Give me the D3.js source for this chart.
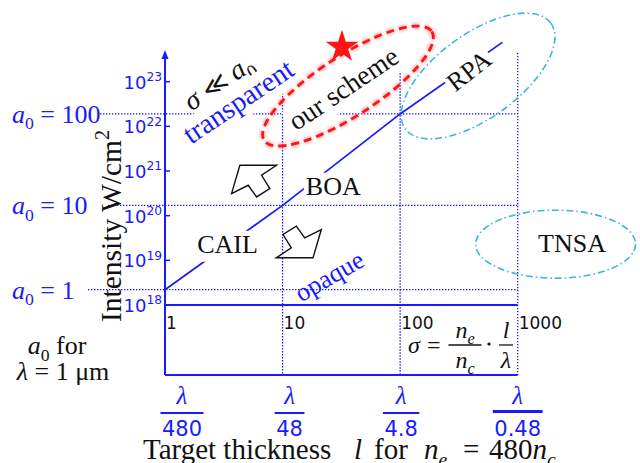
<!DOCTYPE html>
<html>
<head>
<meta charset="utf-8">
<script src="https://cdn.jsdelivr.net/npm/d3@7"></script>
<style>
  html, body { margin: 0; background: #fff; }
  svg { display: block; }
</style>
</head>
<body>
<svg id="chart" width="640" height="463"></svg>
<script>
// Regimes of laser-foil interaction: intensity vs target thickness (sigma = ne/nc * l/lambda)
var xTicks = [1, 10, 100, 1000];
var xTickLabels = ["1", "10", "100", "1000"];
var lambdaDenoms = ["480", "48", "4.8", "0.48"];
var yTicks = [1e18, 1e19, 1e20, 1e21, 1e22, 1e23];
var yTickExps = ["18", "19", "20", "21", "22", "23"];

var a0Levels = ["1", "10", "100"];
var a0Intensity = [2.2e18, 1.7e20, 1.9e22];

var gridL = [10, 100, 1000];
var gridTopI = [6.5e22, 2.1e23, 4.4e23];

// sigma = a0 threshold line
var thresholdL = [1, 10, 100, 740];
var thresholdI = [2.2e18, 1.7e20, 1.9e22, 7.6e23];

var regimeNames = ["CAIL", "BOA", "RPA", "TNSA"];
var regimeL = [3.4, 27, 385, 2900];
var regimeI = [2.3e19, 4.6e20, 1.75e23, 2.4e19];

(function () {
  "use strict";

  var BLUE = "#1a1aff", CYAN = "#38b4ea", RED = "#ff1414";
  var SERIF = "'Liberation Serif', 'DejaVu Serif', serif";
  var SANS = "'DejaVu Sans', sans-serif";

  var svg = d3.select("#chart");
  var x = d3.scaleLog().domain([1, 1000]).range([165, 517.7]);
  var y = d3.scaleLog().domain([1e18, 1e23]).range([305, 81.7]);
  var boxBottom = 375, axisTop = 50;

  var defs = svg.append("defs");
  defs.append("filter").attr("id", "glow")
    .attr("x", "-20%").attr("y", "-20%").attr("width", "140%").attr("height", "140%")
    .append("feGaussianBlur").attr("stdDeviation", 1.6);

  // rich text helper: parts = [[text, "it sub", xpos], ...]
  function rich(t, parts, fs) {
    var cur = 0;
    parts.forEach(function (p) {
      var f = (p[1] || "").split(" ");
      var off = f.indexOf("sub") >= 0 ? 0.25 * fs : (f.indexOf("sup") >= 0 ? -0.42 * fs : 0);
      var ts = t.append("tspan").text(p[0]);
      if (off - cur !== 0) ts.attr("dy", off - cur);
      cur = off;
      if (f.indexOf("it") >= 0) ts.attr("font-style", "italic");
      if (f.indexOf("sans") >= 0) ts.attr("font-family", SANS).attr("font-size", fs * 0.9);
      if (f.indexOf("sub") >= 0 || f.indexOf("sup") >= 0) ts.attr("font-size", fs * 0.68);
      if (p[2] != null) ts.attr("x", p[2]);
    });
    return t;
  }

  var gLines = svg.append("g");

  // a0 levels (horizontal dotted)
  var a0LineStart = [88, 108, 100];
  a0Intensity.forEach(function (I, i) {
    gLines.append("line")
      .attr("x1", a0LineStart[i]).attr("x2", x(1000))
      .attr("y1", y(I)).attr("y2", y(I))
      .attr("stroke", BLUE).attr("stroke-width", 1.3).attr("stroke-dasharray", "1.4,1.6");
  });

  // vertical dotted grid
  gridL.forEach(function (l, i) {
    gLines.append("line")
      .attr("x1", x(l)).attr("x2", x(l))
      .attr("y1", y(gridTopI[i])).attr("y2", boxBottom)
      .attr("stroke", BLUE).attr("stroke-width", 1.3).attr("stroke-dasharray", "1.4,1.6");
  });

  // threshold sigma = a0
  var pts = thresholdL.map(function (l, i) { return [l, thresholdI[i]]; });
  gLines.append("path")
    .attr("d", d3.line().x(function (d) { return x(d[0]); }).y(function (d) { return y(d[1]); })(pts))
    .attr("fill", "none").attr("stroke", BLUE).attr("stroke-width", 1.8);

  // axes / box
  var gAx = svg.append("g").attr("stroke", BLUE).attr("stroke-width", 2);
  gAx.append("line").attr("x1", x(1)).attr("x2", x(1000)).attr("y1", y(1e18)).attr("y2", y(1e18));
  gAx.append("line").attr("x1", x(1)).attr("x2", x(1000)).attr("y1", boxBottom).attr("y2", boxBottom);
  gAx.append("line").attr("x1", x(1)).attr("x2", x(1)).attr("y1", boxBottom).attr("y2", axisTop + 6);
  svg.append("path")
    .attr("d", "M" + x(1) + "," + axisTop + "l-3.5,9l7,0z")
    .attr("fill", BLUE);

  yTicks.forEach(function (t, i) {
    gAx.append("line").attr("x1", x(1)).attr("x2", x(1) + 5).attr("y1", y(t)).attr("y2", y(t))
      .attr("stroke-width", 1.5);
    var tx = svg.append("text").attr("x", 162).attr("y", y(t) + 7)
      .attr("text-anchor", "end").attr("fill", BLUE)
      .attr("font-family", SANS).attr("font-size", 18);
    rich(tx, [["10"], [yTickExps[i], "sup"]], 18);
  });

  xTicks.forEach(function (t, i) {
    svg.append("text").attr("x", x(t) + 1).attr("y", 329)
      .attr("font-family", SANS).attr("font-size", 17).attr("fill", "#111")
      .text(xTickLabels[i]);
  });

  // lambda / N labels under the box
  var denomNudge = [17, 7, 1, 0];
  xTicks.forEach(function (t, i) {
    var cx = x(t) + denomNudge[i];
    var g = svg.append("g").attr("fill", BLUE);
    g.append("text").attr("x", cx).attr("y", 404).attr("text-anchor", "middle")
      .attr("font-family", SERIF).attr("font-style", "italic").attr("font-size", 25).text("λ");
    var d = g.append("text").attr("x", cx).attr("y", 436).attr("text-anchor", "middle")
      .attr("font-family", SANS).attr("font-size", 21).text(lambdaDenoms[i]);
    var w = d.node().getComputedTextLength() + 3;
    g.append("line").attr("x1", cx - w / 2).attr("x2", cx + w / 2)
      .attr("y1", i === 3 ? 411.5 : 413).attr("y2", i === 3 ? 411.5 : 413)
      .attr("stroke", BLUE).attr("stroke-width", i === 3 ? 3 : 2);
  });

  // a0 labels on the left
  a0Intensity.forEach(function (I, i) {
    var t = svg.append("text").attr("x", 12).attr("y", y(I) + 9)
      .attr("fill", BLUE).attr("font-family", SERIF).attr("font-size", 26);
    rich(t, [["a", "it"], ["0", "sub"], [" = " + a0Levels[i]]], 26);
  });

  var note = svg.append("g").attr("font-family", SERIF).attr("font-size", 26).attr("fill", "#111")
    .attr("text-anchor", "middle");
  rich(note.append("text").attr("x", 57).attr("y", 354), [["a", "it"], ["0", "sub"], [" for"]], 26);
  rich(note.append("text").attr("x", 63).attr("y", 380), [["λ", "it"], [" = 1 μm"]], 26);

  // y axis title
  rich(svg.append("text").attr("transform", "translate(121,226) rotate(-90)")
    .attr("text-anchor", "middle").attr("font-family", SERIF).attr("font-size", 29.5).attr("fill", "#111"),
    [["Intensity W/cm"], ["2", "sup"]], 29.5);

  // x axis title
  rich(svg.append("text").attr("x", 143).attr("y", 459)
    .attr("font-family", SERIF).attr("font-size", 29).attr("fill", "#111"),
    [["Target thickness"], ["l", "it", 354], ["for", "", 374], ["n", "it", 424], ["e", "it sub"],
     ["=", "", 463], ["480", "", 489], ["n", "it"], ["c", "it sub"]], 29);

  // sigma formula
  var fg = svg.append("g").attr("font-family", SERIF).attr("font-size", 24).attr("fill", "#111");
  fg.append("text").attr("x", 408).attr("y", 353).attr("font-style", "italic").text("σ");
  fg.append("text").attr("x", 427).attr("y", 353).text("=");
  function frac(cx, num, den, w) {
    rich(fg.append("text").attr("x", cx).attr("y", 338).attr("text-anchor", "middle"), num, 24);
    rich(fg.append("text").attr("x", cx).attr("y", 368).attr("text-anchor", "middle"), den, 24);
    fg.append("line").attr("x1", cx - w / 2).attr("x2", cx + w / 2).attr("y1", 345).attr("y2", 345)
      .attr("stroke", "#111").attr("stroke-width", 1.3);
  }
  frac(465, [["n", "it"], ["e", "it sub"]], [["n", "it"], ["c", "it sub"]], 33);
  fg.append("circle").attr("cx", 489).attr("cy", 344).attr("r", 1.6).attr("fill", "#111");
  frac(506, [["l", "it"]], [["λ", "it"]], 14);

  // labels with white backing
  function label(cx, cy, angle, parts, fs, color, backing) {
    var g = svg.append("g").attr("transform", "translate(" + cx + "," + cy + ") rotate(" + angle + ")");
    var t = g.append("text").attr("text-anchor", "middle").attr("y", fs * 0.33)
      .attr("font-family", SERIF).attr("font-size", fs).attr("fill", color);
    rich(t, parts, fs);
    if (backing) {
      var b = t.node().getBBox();
      g.insert("rect", "text").attr("x", b.x - 2).attr("y", b.y + 1)
        .attr("width", b.width + 4).attr("height", b.height + 2).attr("fill", "#fff");
    }
    return g;
  }

  regimeNames.forEach(function (n, i) {
    label(x(regimeL[i]), y(regimeI[i]), n === "RPA" ? -38 : 0, [[n]], 26, "#111", n !== "TNSA");
  });

  label(x(2.85), y(9.8e22), -34, [["σ", "it"], [" "], ["≪", "sans"], [" "], ["a", "it"], ["0", "sub"]], 28, "#111", false);
  label(x(4.2), y(3.6e22), -34, [["transparent"]], 28.5, BLUE, true);
  label(x(33), y(7e22), -34, [["our scheme"]], 27.5, "#111", true);
  label(x(25), y(4.4e18), -30, [["opaque"]], 26, BLUE, false);

  // highlighted regions
  function ellipse(l, I, rx, ry, angle) {
    return svg.append("ellipse")
      .attr("transform", "translate(" + x(l) + "," + y(I) + ") rotate(" + angle + ")")
      .attr("rx", rx).attr("ry", ry).attr("fill", "none");
  }
  ellipse(36, 8e22, 100, 30, -33).attr("stroke", "#ff7a7a").attr("stroke-width", 6)
    .attr("stroke-dasharray", "8,5").attr("opacity", 0.55).attr("filter", "url(#glow)");
  ellipse(36, 8e22, 100, 30, -33).attr("stroke", RED).attr("stroke-width", 2.8)
    .attr("stroke-dasharray", "8,5");
  ellipse(460, 1.34e23, 90, 42, -36).attr("stroke", CYAN).attr("stroke-width", 1.6)
    .attr("stroke-dasharray", "7,3,1.5,3");
  ellipse(2100, 2.3e19, 80, 34, 0).attr("stroke", CYAN).attr("stroke-width", 1.6)
    .attr("stroke-dasharray", "7,3,1.5,3");

  svg.append("path")
    .attr("transform", "translate(" + x(32) + "," + y(6e23) + ")")
    .attr("d", d3.symbol().type(d3.symbolStar).size(330)())
    .attr("fill", RED);

  // block arrows (up-left / down-right)
  var arrowShape = [[-14, -16], [22.7, -16], [7.7, -6], [16, 7.3], [2.7, 15.7], [-5.7, 4], [-22.3, 12.3]];
  var arrowL = [5.7, 13.8], arrowI = [5.9e20, 2.6e19], arrowRot = [0, 180];
  arrowL.forEach(function (l, i) {
    svg.append("polygon")
      .attr("transform", "translate(" + x(l) + "," + y(arrowI[i]) + ") rotate(" + arrowRot[i] + ")")
      .attr("points", arrowShape.map(function (p) { return p.join(","); }).join(" "))
      .attr("fill", "#fff").attr("stroke", "#111").attr("stroke-width", 1.4)
      .attr("stroke-linejoin", "miter");
  });
})();
</script>
</body>
</html>
